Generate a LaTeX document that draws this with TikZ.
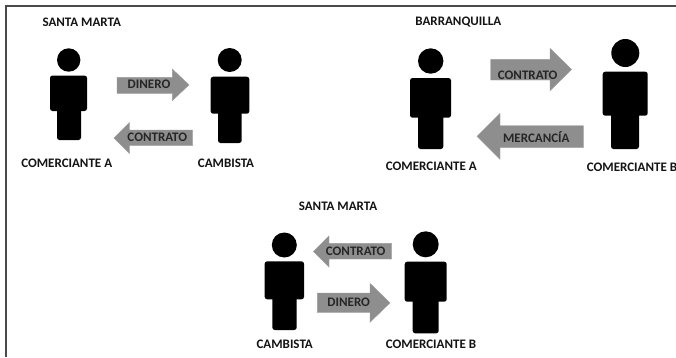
\documentclass[tikz,border=0pt]{standalone}
\usepackage{fontspec}
\setmainfont{Carlito}
\usetikzlibrary{calc}
\definecolor{framecol}{HTML}{4A4A4A}
\definecolor{arrowcol}{HTML}{8E8E8E}
\tikzset{
  lab/.style={font=\fontsize{13}{15}\selectfont\bfseries, text=black!92, inner sep=0pt, anchor=center},
  arrowlab/.style={lab, text=black!85},
  figure part/.style={fill=black, draw=none, rounded corners=2.5pt},
  blockarrow/.style={fill=arrowcol, draw=arrowcol!85!white, line width=0.4pt, line join=miter},
  frameline/.style={draw=framecol, line width=1.1pt}
}
% #1 name, #2 head x, #3 head y, #4 r, #5 body L, #6 body R, #7 body top, #8 body bottom, #9 legs L; then legs R, legs bottom
\newcommand{\personfig}[9]{%
  \def\pA{#1}\def\pB{#2}\def\pC{#3}\def\pD{#4}\def\pE{#5}\def\pF{#6}\def\pG{#7}\def\pH{#8}\def\pI{#9}\personfigrest}
\newcommand{\personfigrest}[2]{%
  \fill[black] (\pB,\pC) circle (\pD);
  \path[figure part] (\pI,\pH-3) rectangle (#1,#2);
  \path[figure part] (\pE,\pG) rectangle (\pF,\pH);
  \coordinate (\pA) at (\pB,\pC);
}
% right arrow: name, tail, base, tip, shaft top, shaft bottom, head top, head bottom
\newcommand{\blockarr}[8]{%
  \path[blockarrow] (#2,#5) -- (#3,#5) -- (#3,#7) -- (#4,{(#7+#8)/2}) -- (#3,#8) -- (#3,#6) -- (#2,#6) -- cycle;
  \coordinate (#1) at (#4,{(#7+#8)/2});
}
\begin{document}
\begin{tikzpicture}[x=1pt,y=-1pt]
\useasboundingbox (0,0) rectangle (676,357);
\clip (0,0) rectangle (676,357);
\fill[white] (0,0) rectangle (676,357);
\coordinate (fa) at (676,6);
\coordinate (fb) at (6,6);
\coordinate (fc) at (6,357);
\draw[frameline] (fa) -- (fb) -- (fc);
% figures
\personfig{p1}{68.7}{60}{11.7}{50}{87}{75.5}{111}{57}{81}{140}
\personfig{p2}{229.7}{60}{12}{210.7}{249.3}{76.7}{113.7}{218}{241.7}{143}
\personfig{p3}{430.7}{61}{12.7}{410}{451}{78}{117.7}{418}{443.3}{149}
\personfig{p4}{625.3}{53}{14}{602.7}{647.7}{71.7}{115.7}{611}{639}{149}
\personfig{p5}{284.3}{245}{12.5}{264.7}{304}{261.3}{299.3}{272.3}{296.7}{330}
\personfig{p6}{425.7}{244.3}{13}{404.7}{446.7}{261.7}{301.7}{412.7}{438.7}{333.3}
% arrows
\blockarr{a1}{117}{172.3}{189}{77.3}{93.3}{69}{100.7}
\blockarr{a2}{192.7}{129.3}{114}{130}{145.7}{122.7}{153.3}
\blockarr{a3}{490.7}{550}{571.7}{59.3}{80}{48.3}{90.7}
\blockarr{a4}{583.3}{500}{477}{125.7}{147.7}{113.3}{159.3}
\blockarr{a5}{391.7}{329}{313.3}{243.3}{259}{236}{267}
\blockarr{a6}{317.3}{370}{390}{293}{312.3}{283.3}{322.3}
% arrow labels
\node[arrowlab] (la1) at (149,84.7) {DINERO};
\node[arrowlab] (la2) at (157.3,137.7) {CONTRATO};
\node[arrowlab] (la3) at (527.7,75.3) {CONTRATO};
\node[arrowlab] (la4) at (536.3,136.7) {MERCANCÍA};
\node[arrowlab] (la5) at (355.7,251.7) {CONTRATO};
\node[arrowlab] (la6) at (348.7,302.3) {DINERO};
% labels
\node[lab] (t1) at (81.7,22.7) {SANTA MARTA};
\node[lab] (t2) at (458.3,22) {BARRANQUILLA};
\node[lab] (t3) at (338,206.7) {SANTA MARTA};
\node[lab] (n1) at (66.7,163) {COMERCIANTE A};
\node[lab] (n2) at (226,163) {CAMBISTA};
\node[lab] (n3) at (431.3,166.7) {COMERCIANTE A};
\node[lab] (n4) at (632,167) {COMERCIANTE B};
\node[lab] (n5) at (284.7,344.7) {CAMBISTA};
\node[lab] (n6) at (431,344) {COMERCIANTE B};
\end{tikzpicture}
\end{document}
